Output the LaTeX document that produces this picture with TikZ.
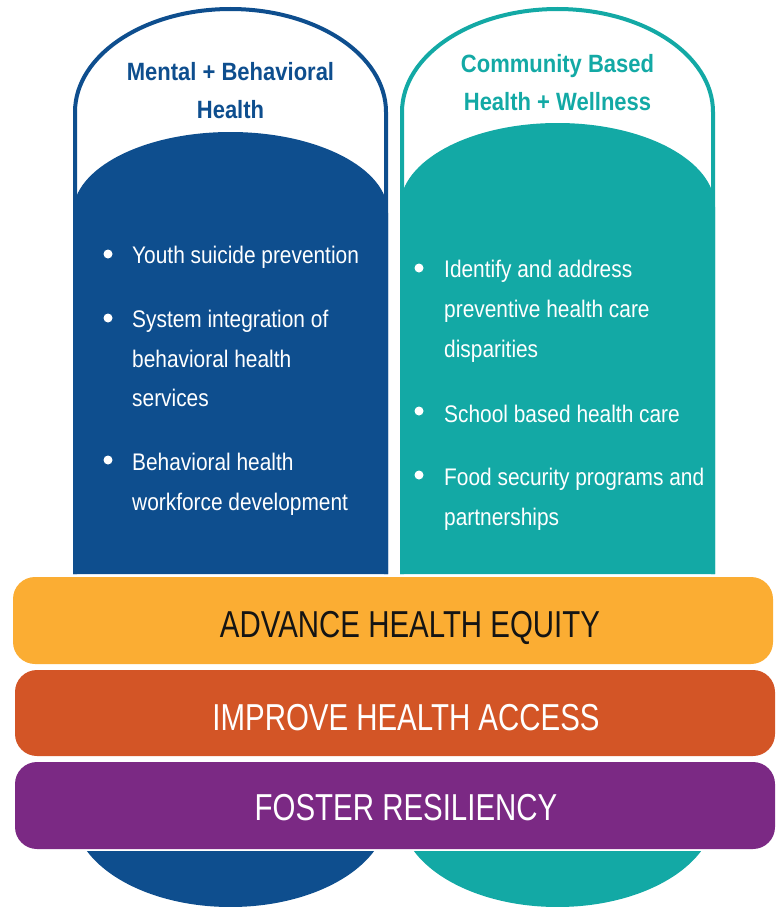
\documentclass[tikz,border=0pt]{standalone}
\usepackage{fontspec}
\setmainfont{Liberation Sans}
\newfontfamily\bodyfont{Liberation Sans}[FakeStretch=0.87]
\newfontfamily\barfont{Liberation Sans}[FakeStretch=0.785]
\newfontfamily\titlefont{Liberation Sans}[FakeStretch=0.88]
\definecolor{blueC}{HTML}{0E4E8E}
\definecolor{tealC}{HTML}{13A9A5}
\definecolor{yellowC}{HTML}{FBAD33}
\definecolor{orangeC}{HTML}{D35526}
\definecolor{purpleC}{HTML}{7B2984}
\definecolor{darkT}{HTML}{141414}
\tikzset{
  bodytext/.style={anchor=base west, inner sep=0pt, text=white, font=\bodyfont\fontsize{24}{24}\selectfont},
  bulletdot/.style={circle, fill=white, inner sep=0pt, minimum size=9pt},
  titletext/.style={anchor=base, inner sep=0pt, font=\titlefont\bfseries\fontsize{25}{25}\selectfont},
  bartext/.style={anchor=base, inner sep=0pt, font=\barfont\fontsize{37.5}{37.5}\selectfont},
  barshape/.style={rounded corners=22pt},
  outline/.style={line width=4pt}
}
\begin{document}
\begin{tikzpicture}[x=1pt,y=-1pt]
\useasboundingbox (0,0) rectangle (777,907);
% left column
\fill[blueC] (73,574) -- (73,213) arc[start angle=180,end angle=360,x radius=157.5,y radius=81] -- (388,574) -- cycle;
\draw[blueC, outline] (75,574) -- (75,112) arc[start angle=180,end angle=360,x radius=155.5,y radius=103] -- (386,574);
% right column
\fill[tealC] (400,574) -- (400,207) arc[start angle=180,end angle=360,x radius=157.5,y radius=84] -- (715,574) -- cycle;
\draw[tealC, outline] (402,574) -- (402,112) arc[start angle=180,end angle=360,x radius=155.5,y radius=103] -- (713,574);
% bottom caps
\begin{scope}
  \clip (0,851) rectangle (777,907);
  \fill[blueC] (230.5,812) ellipse [x radius=157.5, y radius=95];
  \fill[tealC] (557.5,812) ellipse [x radius=157.5, y radius=95];
\end{scope}
% titles
\node[titletext, text=blueC] (lt1) at (230.5,80) {Mental + Behavioral};
\node[titletext, text=blueC] (lt2) at (230.5,118) {Health};
\node[titletext, text=tealC] (rt1) at (557.5,72) {Community Based};
\node[titletext, text=tealC] (rt2) at (557.5,110) {Health + Wellness};
% left bullets
\node[bulletdot] (lb1) at (108,254) {};
\node[bodytext] (l1) at (132,263) {Youth suicide prevention};
\node[bulletdot] (lb2) at (108,318) {};
\node[bodytext] (l2a) at (132,327) {System integration of};
\node[bodytext] (l2b) at (132,367) {behavioral health};
\node[bodytext] (l2c) at (132,406) {services};
\node[bulletdot] (lb3) at (108,460) {};
\node[bodytext] (l3a) at (132,470) {Behavioral health};
\node[bodytext] (l3b) at (132,510) {workforce development};
% right bullets
\node[bulletdot] (rb1) at (419,268) {};
\node[bodytext] (r1a) at (444,277) {Identify and address};
\node[bodytext] (r1b) at (444,317) {preventive health care};
\node[bodytext] (r1c) at (444,357) {disparities};
\node[bulletdot] (rb2) at (419,411) {};
\node[bodytext] (r2) at (444,422) {School based health care};
\node[bulletdot] (rb3) at (419,475) {};
\node[bodytext] (r3a) at (444,485) {Food security programs and};
\node[bodytext] (r3b) at (444,525) {partnerships};
% bars
\fill[yellowC, barshape] (13,577) rectangle (773,664);
\fill[orangeC, barshape] (15,670) rectangle (775,756);
\fill[purpleC, barshape] (15,762) rectangle (775,849);
\node[bartext, text=darkT] (eq) at (410,637) {ADVANCE HEALTH EQUITY};
\node[bartext, text=white] (ac) at (406,730) {IMPROVE HEALTH ACCESS};
\node[bartext, text=white] (rs) at (406,820) {FOSTER RESILIENCY};
\end{tikzpicture}
\end{document}
